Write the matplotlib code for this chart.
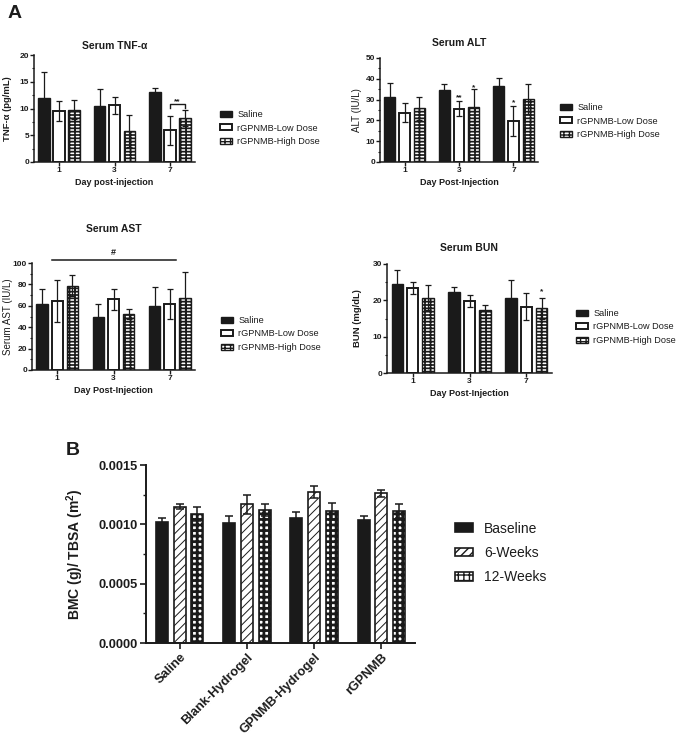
import matplotlib
matplotlib.use('Agg')
import matplotlib.pyplot as plt
import numpy as np
from matplotlib.patches import Patch
from matplotlib.ticker import MultipleLocator

plt.rcParams['font.family'] = ['Liberation Sans', 'DejaVu Sans']
plt.rcParams['mathtext.fontset'] = 'custom'
plt.rcParams['mathtext.rm'] = 'Liberation Sans'
plt.rcParams['mathtext.bf'] = 'Liberation Sans:bold'
plt.rcParams['hatch.linewidth'] = 1.0

# ---------------- data: panel A ----------------
days = ['1', '3', '7']
groups_A = ['Saline', 'rGPNMB-Low Dose', 'rGPNMB-High Dose']

tnf_saline = [12.0, 10.4, 13.0]
tnf_saline_sd = [4.9, 3.2, 0.9]
tnf_low = [9.5, 10.6, 5.9]
tnf_low_sd = [1.9, 1.6, 2.7]
tnf_high = [9.8, 5.8, 8.2]
tnf_high_sd = [1.8, 3.0, 1.5]

alt_saline = [31.2, 34.6, 36.3]
alt_saline_sd = [7.0, 2.7, 4.0]
alt_low = [23.7, 25.6, 19.7]
alt_low_sd = [4.5, 3.5, 7.0]
alt_high = [25.8, 26.4, 30.4]
alt_high_sd = [5.6, 8.8, 7.2]

ast_saline = [61.7, 49.8, 59.5]
ast_saline_sd = [14.0, 11.6, 18.1]
ast_low = [64.5, 66.0, 61.7]
ast_low_sd = [19.8, 9.8, 14.0]
ast_high = [78.8, 52.6, 67.3]
ast_high_sd = [9.7, 4.7, 24.6]

bun_saline = [24.6, 22.3, 20.6]
bun_saline_sd = [3.7, 1.3, 5.0]
bun_low = [23.4, 19.8, 18.3]
bun_low_sd = [1.7, 1.7, 3.6]
bun_high = [20.7, 17.3, 17.8]
bun_high_sd = [3.4, 1.4, 2.8]

# ---------------- data: panel B ----------------
groups_B = ['Saline', 'Blank-Hydrogel', 'GPNMB-Hydrogel', 'rGPNMB']
timepoints_B = ['Baseline', '6-Weeks', '12-Weeks']
bmc_baseline = [0.00102, 0.00101, 0.00105, 0.00104]
bmc_baseline_sd = [0.00003, 0.00006, 0.00005, 0.00003]
bmc_6wk = [0.00115, 0.00117, 0.00127, 0.00126]
bmc_6wk_sd = [0.00002, 0.00008, 0.00005, 0.00003]
bmc_12wk = [0.00109, 0.00112, 0.00111, 0.00111]
bmc_12wk_sd = [0.00006, 0.00005, 0.00007, 0.00006]
b_yticks = [0.0, 0.0005, 0.0010, 0.0015]

W, H = 677, 745
fig = plt.figure(figsize=(W / 100, H / 100), dpi=100)
TXT = '#1c1c1c'


def fr(x0, ytop, x1, ybot):
    return [x0 / W, 1 - ybot / H, (x1 - x0) / W, (ybot - ytop) / H]


styleA = [
    dict(facecolor='#1a1a1a', edgecolor='#1a1a1a', hatch=None, lw=1.0),
    dict(facecolor='white', edgecolor='#1a1a1a', hatch=None, lw=1.4),
    dict(facecolor='white', edgecolor='#1a1a1a', hatch='|||-----', lw=1.0),
]


def set_hlw(patches, v):
    for p in patches:
        if hasattr(p, 'set_hatch_linewidth'):
            p.set_hatch_linewidth(v)


def panelA(rect, title, ylabel, ylabel_bold, xlabel, series, sds, ymax, major,
           minor, title_pad, leg_xy, ylabel_x):
    ax = fig.add_axes(fr(*rect))
    x = np.arange(len(days))
    off = 0.27
    handles = []
    for i, (vals, sd) in enumerate(zip(series, sds)):
        st = styleA[i]
        xs = x + (i - 1) * off
        with plt.rc_context({'hatch.linewidth': 1.25}):
            bars = ax.bar(xs, vals, width=0.2, facecolor=st['facecolor'],
                          edgecolor=st['edgecolor'], hatch=st['hatch'],
                          linewidth=st['lw'], zorder=2)
            set_hlw(bars, 1.25)
            p = Patch(facecolor=st['facecolor'], edgecolor=st['edgecolor'],
                      hatch=st['hatch'], linewidth=st['lw'])
            set_hlw([p], 1.25)
            handles.append(p)
        ax.errorbar(xs, vals, yerr=sd, fmt='none', ecolor='#1a1a1a',
                    elinewidth=0.9, capsize=2.4, capthick=0.9, zorder=3)
    ax.set_xlim(-0.45, 2.45)
    ax.set_ylim(0, ymax)
    ax.set_xticks(x)
    ax.set_xticklabels(days)
    ax.yaxis.set_major_locator(MultipleLocator(major))
    ax.yaxis.set_minor_locator(MultipleLocator(minor))
    for s in ['top', 'right']:
        ax.spines[s].set_visible(False)
    for s in ['left', 'bottom']:
        ax.spines[s].set_linewidth(1.1)
        ax.spines[s].set_color('#1a1a1a')
    ax.tick_params(axis='both', which='major', length=2.6, width=1.0,
                   labelsize=6, colors='#1a1a1a', pad=1.0)
    ax.tick_params(axis='y', which='minor', length=1.8, width=0.8, colors='#1a1a1a')
    for lab in ax.get_xticklabels() + ax.get_yticklabels():
        lab.set_fontweight('bold')
        lab.set_color(TXT)
    ax.set_title(title, fontsize=7.5, fontweight='bold', pad=title_pad, color=TXT)
    ax.set_xlabel(xlabel, fontsize=6.5, fontweight='bold', labelpad=3, color=TXT)
    ax.set_ylabel(ylabel, fontsize=6.8 if ylabel_bold else 7,
                  fontweight='bold' if ylabel_bold else 'normal', color=TXT)
    # right edge of the (rotated) label in pixels -> axes coords
    x0 = rect[0]
    ax.yaxis.set_label_coords((ylabel_x + 5.3 - x0) / (rect[2] - rect[0]), 0.5)
    leg = fig.legend(handles, groups_A, loc='center left',
                     bbox_to_anchor=(leg_xy[0] / W, 1 - leg_xy[1] / H),
                     frameon=False, fontsize=6.6, handlelength=1.35,
                     handleheight=0.6, handletextpad=0.55, labelspacing=0.5,
                     borderpad=0, borderaxespad=0)
    for t in leg.get_texts():
        t.set_color(TXT)
    return ax


ax1 = panelA((34, 55, 195, 162), 'Serum TNF-\u03b1', 'TNF-\u03b1 (pg/mL)', True,
             'Day post-injection', [tnf_saline, tnf_low, tnf_high],
             [tnf_saline_sd, tnf_low_sd, tnf_high_sd], 20, 5, 2.5, 4,
             (220, 128), 6.5)
# bracket ** on day 7
xl, xh = 2.0, 2.27
ax1.plot([xl, xl, xh, xh], [10.1, 10.8, 10.8, 10.1], color='#1a1a1a', lw=1.0)
ax1.text((xl + xh) / 2, 11.3, '**', ha='center', va='center', fontsize=6,
         fontweight='bold', color=TXT)

ax2 = panelA((380, 58, 538, 162), 'Serum ALT', 'ALT (IU/L)', False,
             'Day Post-Injection', [alt_saline, alt_low, alt_high],
             [alt_saline_sd, alt_low_sd, alt_high_sd], 50, 10, 5, 9,
             (560, 121), 357)
ax2.text(1.0, 30.8, '**', ha='center', va='center', fontsize=6, fontweight='bold', color=TXT)
ax2.text(1.27, 35.8, '*', ha='center', va='center', fontsize=6, fontweight='bold', color=TXT)
ax2.text(2.0, 28.6, '*', ha='center', va='center', fontsize=6, fontweight='bold', color=TXT)

ax3 = panelA((32, 263, 195, 370), 'Serum AST', 'Serum AST (IU/L)', False,
             'Day Post-Injection', [ast_saline, ast_low, ast_high],
             [ast_saline_sd, ast_low_sd, ast_high_sd], 100, 20, 10, 22,
             (221, 334), 7.5)
ax3.plot([-0.09, 2.12], [102.5, 102.5], color='#1a1a1a', lw=1.1, clip_on=False)
ax3.text(1.0, 110, '#', ha='center', va='center', fontsize=6.5,
         fontweight='bold', color=TXT)

ax4 = panelA((387, 264, 552, 373), 'Serum BUN', 'BUN (mg/dL)', True,
             'Day Post-Injection', [bun_saline, bun_low, bun_high],
             [bun_saline_sd, bun_low_sd, bun_high_sd], 30, 10, 5, 9,
             (576, 327), 357)
ax4.text(2.27, 22.3, '*', ha='center', va='center', fontsize=6, fontweight='bold', color=TXT)

fig.text(8 / W, 1 - 18 / H, 'A', fontsize=14, fontweight='bold', color=TXT)
fig.text(66 / W, 1 - 455 / H, 'B', fontsize=14, fontweight='bold', color=TXT)

# ---------------- panel B ----------------
axb = fig.add_axes(fr(146, 465, 415, 643))
xb = np.arange(len(groups_B))
stylesB = [
    dict(facecolor='#1a1a1a', edgecolor='#1a1a1a', hatch=None, hlw=1.0),
    dict(facecolor='white', edgecolor='#1a1a1a', hatch='////', hlw=0.7),
    dict(facecolor='white', edgecolor='#1a1a1a', hatch='+++', hlw=2.0),
]
seriesB = [bmc_baseline, bmc_6wk, bmc_12wk]
sdsB = [bmc_baseline_sd, bmc_6wk_sd, bmc_12wk_sd]
offB = 0.265
handlesB = []
for i, (vals, sd) in enumerate(zip(seriesB, sdsB)):
    st = stylesB[i]
    xs = xb + (i - 1) * offB
    with plt.rc_context({'hatch.linewidth': st['hlw']}):
        bars = axb.bar(xs, vals, width=0.18, facecolor=st['facecolor'],
                       edgecolor=st['edgecolor'], hatch=st['hatch'],
                       linewidth=1.2, zorder=2)
        set_hlw(bars, st['hlw'])
        p = Patch(facecolor=st['facecolor'], edgecolor=st['edgecolor'],
                  hatch=st['hatch'], linewidth=1.2)
        set_hlw([p], st['hlw'])
        handlesB.append(p)
    axb.errorbar(xs, vals, yerr=sd, fmt='none', ecolor='#1a1a1a',
                 elinewidth=1.1, capsize=3, capthick=1.1, zorder=3)
axb.set_xlim(-0.5, 3.5)
axb.set_ylim(0, 0.0015)
axb.set_yticks(b_yticks)
axb.set_yticklabels(['%.4f' % v for v in b_yticks])
axb.yaxis.set_minor_locator(MultipleLocator(0.00025))
axb.set_xticks(xb)
axb.set_xticklabels(groups_B, rotation=45, ha='right', rotation_mode='anchor')
for s in ['top', 'right']:
    axb.spines[s].set_visible(False)
for s in ['left', 'bottom']:
    axb.spines[s].set_linewidth(1.4)
    axb.spines[s].set_color('#1a1a1a')
axb.tick_params(axis='both', which='major', length=4, width=1.2,
                labelsize=9.3, colors='#1a1a1a', pad=2)
axb.tick_params(axis='y', which='minor', length=2.5, width=1.0, colors='#1a1a1a')
for lab in axb.get_xticklabels() + axb.get_yticklabels():
    lab.set_fontweight('bold')
    lab.set_color(TXT)
axb.set_ylabel('BMC (g)/ TBSA (m$^{\\mathbf{2}}$)', fontsize=10,
               fontweight='bold', labelpad=9, color=TXT)
legB = fig.legend(handlesB, timepoints_B, loc='center left',
                  bbox_to_anchor=(455 / W, 1 - 553 / H), frameon=False,
                  fontsize=10, handlelength=1.3, handleheight=0.55,
                  handletextpad=0.8, labelspacing=0.75, borderpad=0,
                  borderaxespad=0)
for t in legB.get_texts():
    t.set_color(TXT)

fig.savefig('out.png', dpi=100)
